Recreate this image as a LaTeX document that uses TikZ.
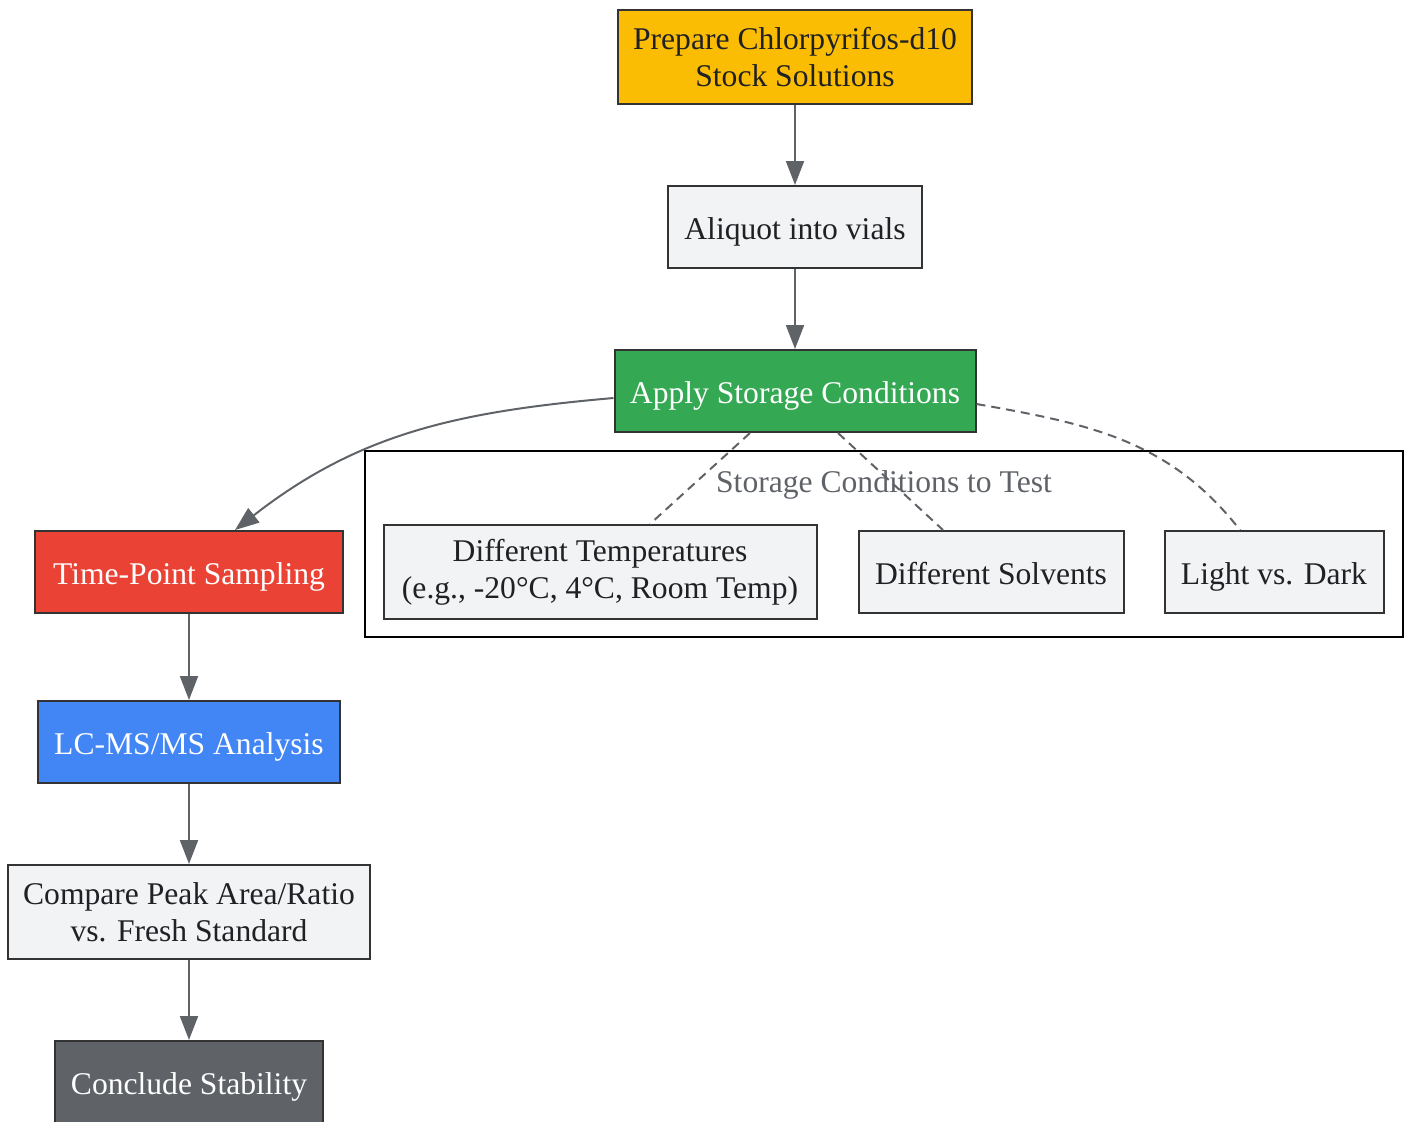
\documentclass[tikz,border=0pt]{standalone}
\usepackage{fontspec}
\setmainfont{Liberation Serif}
\usepackage{tikz}
\usetikzlibrary{positioning, arrows.meta, shapes}
\definecolor{gyellow}{HTML}{FBBC04}
\definecolor{ggreen}{HTML}{34A853}
\definecolor{gred}{HTML}{EA4335}
\definecolor{gblue}{HTML}{4285F4}
\definecolor{ggray}{HTML}{5F6368}
\definecolor{boxgray}{HTML}{F1F3F4}
\definecolor{textdark}{HTML}{202124}
\definecolor{boxline}{HTML}{333333}
\tikzstyle{arrow} = [line width=1pt, draw=ggray, -{Triangle[length=12pt,width=9pt]}]
\tikzstyle{link} = [line width=1pt, draw=ggray, dash pattern=on 4.5pt off 3pt]
\tikzstyle{stage} = [rectangle, draw=boxline, line width=1pt, inner sep=0pt, fill=boxgray, text=textdark, minimum height=41pt, align=center, font=\fontsize{15.8}{18.5}\selectfont]
\tikzstyle{oneline} = [text height=12.4pt, text depth=0pt]

\begin{document}
\begin{tikzpicture}[x=0.5pt, y=-0.5pt, node distance=85pt]
        \useasboundingbox (0,0) rectangle (1409,1121);
        \node (prepare) [stage, fill=gyellow, minimum width=177pt, minimum height=47pt] at (795,57) {Prepare Chlorpyrifos-d10\\Stock Solutions};
        \node (aliquot) [stage, oneline, minimum width=127pt, below of=prepare] {Aliquot into vials};
        \node (apply) [stage, oneline, fill=ggreen, text=white, minimum width=180.5pt, below of=aliquot, yshift=3pt] {Apply Storage Conditions};

        % storage conditions group
        \node (cluster) [draw=black, line width=1pt, minimum width=519pt, minimum height=93pt, inner sep=0pt] at (884,544) {};
        \node (clustertitle) [oneline, text=ggray, font=\fontsize{15.8}{18.5}\selectfont] at (884,480) {Storage Conditions to Test};
        \node (temps) [stage, minimum width=216.5pt, minimum height=47pt] at (600,572) {Different Temperatures\\(e.g., -20°C, 4°C, Room Temp)};
        \node (solvents) [stage, oneline, minimum width=132.5pt] at (991,572) {Different Solvents};
        \node (light) [stage, oneline, minimum width=109.5pt] at (1274,572) {Light vs. Dark};

        \node (sampling) [stage, oneline, fill=gred, text=white, minimum width=154pt] at (189,572) {Time-Point Sampling};
        \node (lcms) [stage, oneline, fill=gblue, text=white, minimum width=151pt, below of=sampling] {LC-MS/MS Analysis};
        \node (compare) [stage, minimum width=181pt, minimum height=47pt, below of=lcms] {Compare Peak Area/Ratio\\vs. Fresh Standard};
        \node (conclude) [stage, oneline, fill=ggray, text=white, minimum width=134pt, below of=compare] {Conclude Stability};

        \draw [arrow] (prepare) -- (aliquot);
        \draw [arrow] (aliquot) -- (apply);
        \draw [arrow] ([yshift=-3.5pt]apply.west) to[out=185, in=38] ([xshift=23pt]sampling.north);
        \draw [link] ([xshift=-22.5pt]apply.south) -- ([xshift=25pt]temps.north);
        \draw [link] ([xshift=21.5pt]apply.south) -- ([xshift=-24pt]solvents.north);
        \draw [link] ([yshift=-6.5pt]apply.east) to[out=-10, in=128] ([xshift=-17pt]light.north);
        \draw [arrow] (sampling) -- (lcms);
        \draw [arrow] (lcms) -- (compare);
        \draw [arrow] (compare) -- (conclude);
        \end{tikzpicture}
\end{document}
